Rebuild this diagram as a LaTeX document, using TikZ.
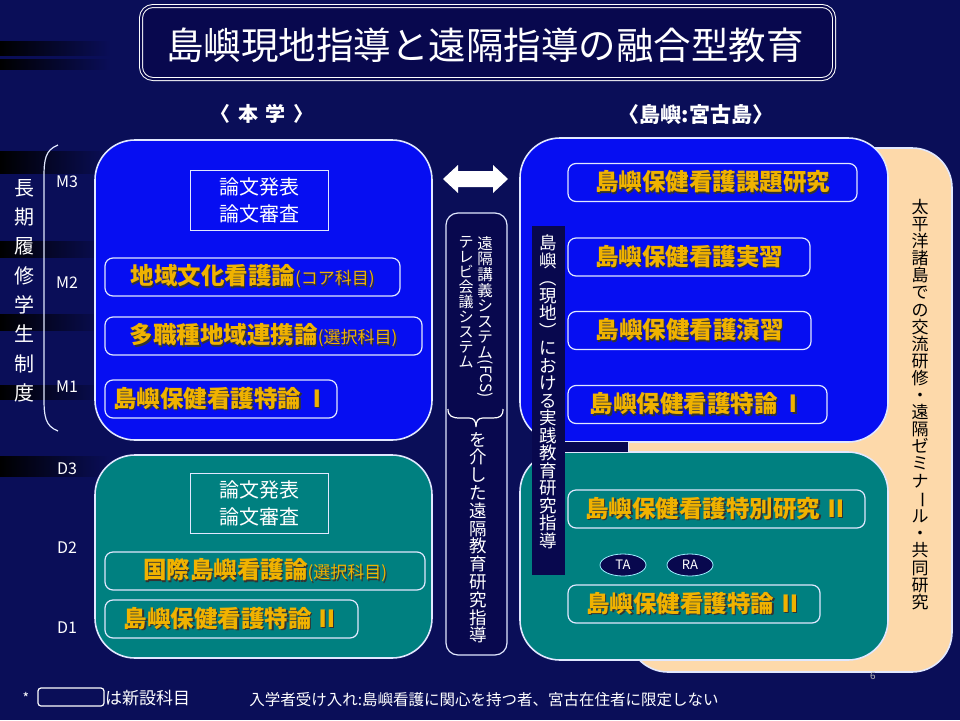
\documentclass[tikz,border=0pt]{standalone}
\usepackage{fontspec}
\usepackage{graphicx}
\setmainfont{Noto Sans CJK JP}
\usetikzlibrary{shapes.geometric}

\definecolor{bgnavy}{RGB}{10,14,88}
\definecolor{deepnavy}{RGB}{8,8,78}
\definecolor{panelblue}{RGB}{6,14,242}
\definecolor{panelteal}{RGB}{0,128,128}
\definecolor{peach}{RGB}{253,217,170}
\definecolor{gold}{RGB}{240,178,0}
\definecolor{frame}{RGB}{225,232,255}

\newcommand{\chouon}{\rotatebox[origin=c]{-90}{ー}}
\newcommand{\vkakko}[1]{\rotatebox[origin=c]{-90}{#1}}
\newcommand{\goldtext}[1]{\makebox[0pt][l]{\kern1.3pt\raisebox{-1.3pt}{\color{black!80}#1}}#1}

\tikzset{
  panel/.style={draw=frame, line width=1.6pt, rounded corners=40pt, inner sep=0pt},
  subj/.style={draw=frame, line width=1.2pt, rounded corners=8pt, minimum height=38pt,
    inner sep=0pt, text=gold, font=\bfseries\fontsize{23.5}{26}\selectfont},
  thesis/.style={draw=frame, line width=0.8pt, minimum width=138pt, minimum height=60pt,
    inner sep=0pt, align=center, text=white, font=\fontsize{20}{27}\selectfont},
  grade/.style={text=white, font=\fontsize{16}{18}\selectfont},
  vstack/.style={anchor=north, align=center, inner sep=0pt},
  assist/.style={ellipse, draw=frame!70!cyan, line width=0.8pt, fill=deepnavy, inner sep=0pt,
    minimum width=46pt, minimum height=22pt, text=white, font=\fontsize{13}{14}\selectfont}
}

\begin{document}
\begin{tikzpicture}[x=1pt,y=-1pt]
\useasboundingbox (0,0) rectangle (960,720);
\fill[bgnavy] (0,0) rectangle (960,720);
\foreach \yy/\hh in {48/14,64/10,162/22,249/16,322/16,392/14,466/20}
  \shade[left color=black, right color=bgnavy] (0,\yy-\hh/2) rectangle (110,\yy+\hh/2);

\node[draw=white, double=deepnavy, double distance=2pt, line width=1pt, rounded corners=12pt,
  fill=deepnavy, minimum width=693pt, minimum height=73pt] (titlebox) at (487.5,42.5) {};
\node[text=white, font=\fontsize{37.5}{40}\selectfont] (title) at (485,45) {島嶼現地指導と遠隔指導の融合型教育};

\node[text=white, font=\bfseries\fontsize{20}{22}\selectfont] (honbu) at (262,114) {〈\, 本\, 学\, 〉};
\node[text=white, font=\bfseries\fontsize{21}{22}\selectfont] (miyako) at (696,114) {〈島嶼:宮古島〉};

\draw[frame, line width=1.2pt] (58,145) .. controls (45,150) and (44,160) .. (44,178) -- (44,398) .. controls (44,416) and (45,426) .. (58,431);
\node[vstack, text=white, font=\fontsize{20}{29.3}\selectfont] (choki) at (24,179) {長\\期\\履\\修\\学\\生\\制\\度};
\node[grade] (m3) at (67,182) {M3};
\node[grade] (m2) at (67,283) {M2};
\node[grade] (m1) at (67,387) {M1};
\node[grade] (d3) at (67,469) {D3};
\node[grade] (d2) at (67,548) {D2};
\node[grade] (d1) at (67,628) {D1};

\node[panel, fill=peach, minimum width=324pt, minimum height=524pt] (koryu) at (790,410) {};
\node[vstack, text=black, font=\fontsize{17}{17.1}\selectfont] (koryutext) at (920,199)
  {太\\平\\洋\\諸\\島\\で\\の\\交\\流\\研\\修\\・\\遠\\隔\\ゼ\\ミ\\ナ\\\chouon\\ル\\・\\共\\同\\研\\究};

\node[panel, fill=panelblue, minimum width=337pt, minimum height=300pt] (hontop) at (263.5,290) {};
\node[panel, fill=panelteal, minimum width=337pt, minimum height=203pt] (honbot) at (263.5,556.5) {};
\node[panel, fill=panelblue, minimum width=368pt, minimum height=304pt] (shimatop) at (704,290) {};
\node[panel, fill=panelteal, minimum width=368pt, minimum height=208pt] (shimabot) at (704,556) {};

\node[thesis] (ronbun1) at (259,200) {論文発表\\論文審査};
\node[subj, minimum width=295pt] (chiiki) at (252.5,277) {\goldtext{地域文化看護論{\mdseries\fontsize{17}{20}\selectfont(コア科目)}}};
\node[subj, minimum width=317pt] (tashoku) at (263.5,336) {\goldtext{多職種地域連携論{\mdseries\fontsize{17}{20}\selectfont(選択科目)}}};
\node[subj, minimum width=232pt] (tokuron1) at (221,399) {\goldtext{島嶼保健看護特論\,Ⅰ}};

\node[thesis] (ronbun2) at (259,503) {論文発表\\論文審査};
\node[subj, minimum width=320pt] (kokusai) at (265,571) {\goldtext{国際島嶼看護論{\mdseries\fontsize{17}{20}\selectfont(選択科目)}}};
\node[subj, minimum width=253pt] (tokuron2) at (231.5,619) {\goldtext{島嶼保健看護特論\,Ⅱ}};

\node[subj, minimum width=289pt] (kadai) at (712.5,182.5) {\goldtext{島嶼保健看護課題研究}};
\node[subj, minimum width=242pt] (jisshu) at (689,257) {\goldtext{島嶼保健看護実習}};
\node[subj, minimum width=243pt] (enshu) at (689.5,330.5) {\goldtext{島嶼保健看護演習}};
\node[subj, minimum width=259pt] (tokuron3) at (697.5,404.5) {\goldtext{島嶼保健看護特論\,Ⅰ}};

\node[subj, minimum width=297pt] (tokubetsu) at (716.5,509) {\goldtext{島嶼保健看護特別研究\,Ⅱ}};
\node[assist] (ta) at (623,565) {TA};
\node[assist] (ra) at (690,565) {RA};
\node[subj, minimum width=252pt] (tokuron4) at (694,604) {\goldtext{島嶼保健看護特論\,Ⅱ}};

\fill[deepnavy] (563,442) rectangle (628,452);
\node[fill=deepnavy, minimum width=33pt, minimum height=349pt, inner sep=0pt] (genchi) at (548.5,400.5) {};
\node[vstack, text=white, font=\fontsize{17.5}{17.5}\selectfont] (genchitext) at (548.5,235)
  {島\\嶼\\\vkakko{（}\\現\\地\\\vkakko{）}\\に\\お\\け\\る\\実\\践\\教\\育\\研\\究\\指\\導};

\fill[white] (443,179) -- (458,165) -- (458,171) -- (493,171) -- (493,165) -- (508,179)
  -- (493,193) -- (493,187) -- (458,187) -- (458,193) -- cycle;
\node[draw=frame, line width=1.2pt, rounded corners=12pt, fill=deepnavy, minimum width=61pt, minimum height=442pt] (relay) at (476.5,434) {};
\node[vstack, text=white, font=\fontsize{15.5}{15.6}\selectfont] (fcs) at (485,236)
  {遠\\隔\\講\\義\\シ\\ス\\テ\\ム\\\rotatebox[origin=c]{-90}{(FCS)}};
\node[vstack, text=white, font=\fontsize{15}{15}\selectfont] (tvconf) at (466,236)
  {テ\\レ\\ビ\\会\\議\\シ\\ス\\テ\\ム};
\draw[white, line width=1.2pt] (448,409) .. controls (448,416) and (452,418) .. (460,418) -- (469,418)
  .. controls (474,418) and (476,421) .. (476,427) .. controls (476,421) and (478,418) .. (483,418)
  -- (493,418) .. controls (500,418) and (503,416) .. (503,409);
\node[vstack, text=white, font=\fontsize{17.5}{17.8}\selectfont] (enkaku) at (478,432)
  {を\\介\\し\\た\\遠\\隔\\教\\育\\研\\究\\指\\導};

\node[text=white, font=\fontsize{14}{16}\selectfont] (ast) at (26,698) {*};
\node[draw=white, line width=1.2pt, rounded corners=3pt, minimum width=66pt, minimum height=18pt, inner sep=0pt] (newbox) at (71,697) {};
\node[text=white, anchor=west, inner sep=0pt, font=\fontsize{17}{19}\selectfont] (shinsetsu) at (105,698) {は新設科目};
\node[text=white, font=\fontsize{15.5}{19}\selectfont] (nyugaku) at (484,700) {入学者受け入れ:島嶼看護に関心を持つ者、宮古在住者に限定しない};
\node[text=gray!60, font=\fontsize{10}{12}\selectfont] (page) at (873,676) {6};
\end{tikzpicture}
\end{document}
